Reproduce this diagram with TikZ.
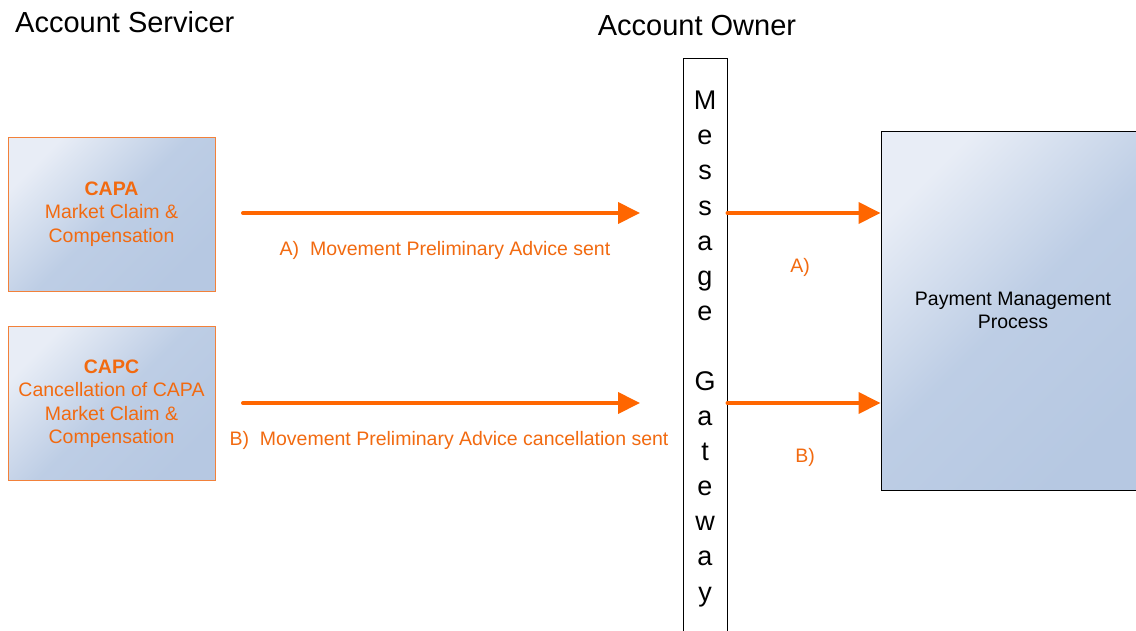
\documentclass[tikz,border=0pt]{standalone}
\usepackage{fontspec}
\setmainfont{Liberation Sans}
\usetikzlibrary{arrows.meta}
\definecolor{org}{HTML}{FF6600}
\definecolor{orgtext}{HTML}{F26A10}
\definecolor{orgborder}{HTML}{F2813A}
\definecolor{blight}{HTML}{E8EDF6}
\definecolor{bdark}{HTML}{B6C8E2}
\tikzset{
  srcbox/.style={draw=orgborder, line width=1pt, top color=blight, bottom color=bdark, middle color=bdark!85!blight, shading angle=45,
    minimum width=207pt, minimum height=154pt, align=center, text=orgtext,
    font=\fontsize{19.5}{23.5}\selectfont, inner sep=0pt},
  procbox/.style={draw=black, line width=1pt, top color=blight, bottom color=bdark, middle color=bdark!85!blight, shading angle=45,
    minimum width=264pt, minimum height=359pt, align=center,
    font=\fontsize{19.5}{23}\selectfont, inner sep=0pt},
  heading/.style={font=\fontsize{29}{34}\selectfont, inner sep=0pt},
  lbl/.style={text=orgtext, font=\fontsize{19.5}{23}\selectfont, inner sep=0pt},
  arr/.style={draw=org, line width=4pt, line cap=round, -{Triangle[length=22pt,width=21pt]}},
}
\begin{document}
\begin{tikzpicture}[x=1pt, y=-1pt]
\useasboundingbox (0,0) rectangle (1136,630);
\clip (0,0) rectangle (1136,630);
\fill[white] (0,0) rectangle (1136,630);

\node[heading, anchor=west] (hs) at (15,22) {Account Servicer};
\node[heading] (ho) at (697,26) {Account Owner};

\node[srcbox] (capa) at (111.5,214) {\textbf{CAPA}\\Market Claim \&\\Compensation};
\node[srcbox] (capc) at (111.5,403.5) {\textbf{CAPC}\\Cancellation of CAPA\\Market Claim \&\\Compensation};

\node[draw=black, line width=1pt, fill=white, minimum width=44pt, minimum height=600pt, inner sep=0pt, anchor=north] (gw) at (705,58) {};
\node[anchor=north, align=center, inner sep=0pt, font=\fontsize{27}{35.1}\selectfont] (gwtext) at (705,91)
  {M\\e\\s\\s\\a\\g\\e\\[35pt]G\\a\\t\\e\\w\\a\\y};

\node[procbox] (pmp) at (1013,310.5) {Payment Management\\Process};

\coordinate (ta) at (640,213);
\coordinate (tb) at (640,403);
\coordinate (sa) at (243,213);
\coordinate (sb) at (243,403);
\draw[arr] (sa) -- (ta);
\draw[arr] (sb) -- (tb);
\draw[arr] (gw.east |- ta) -- (pmp.west |- ta);
\draw[arr] (gw.east |- tb) -- (pmp.west |- tb);

\node[lbl] (la) at (445,250) {A)\ \ Movement Preliminary Advice sent};
\node[lbl] (lb) at (449,440) {B)\ \ Movement Preliminary Advice cancellation sent};
\node[lbl] (ra) at (800,267) {A)};
\node[lbl] (rb) at (805,457) {B)};
\end{tikzpicture}
\end{document}
